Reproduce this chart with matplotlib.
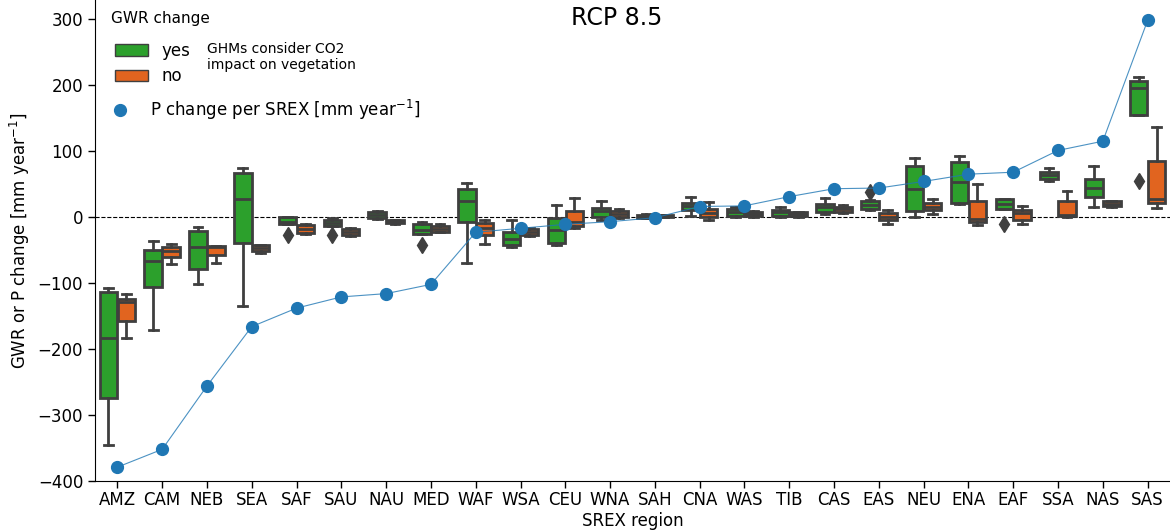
import numpy as np
import matplotlib
matplotlib.use("Agg")
import matplotlib.pyplot as plt
from matplotlib.patches import Patch
from matplotlib.lines import Line2D

# -----------------------------
# data
# -----------------------------
regions = ["AMZ", "CAM", "NEB", "SEA", "SAF", "SAU", "NAU", "MED", "WAF", "WSA",
           "CEU", "WNA", "SAH", "CNA", "WAS", "TIB", "CAS", "EAS", "NEU", "ENA",
           "EAF", "SSA", "NAS", "SAS"]

p_change = [-379, -352, -256, -166, -138, -121, -116, -102, -23, -17,
            -11, -7, -1, 16, 17, 31, 43, 44, 54, 65, 68, 101, 115, 298]

# GHMs with CO2 impact on vegetation ("yes")
yes_whislo = [-346, -171, -101, -135, -11, -13, -3, -26, -69, -46, -43, -5, -2, 2, 0, 0, 5, 10, 0, 20, 12, 54, 15, 154]
yes_q1     = [-274, -106, -79, -40, -11, -13, -2, -26, -8, -42, -40, 0, -1, 10, 1, 1, 7, 12, 9, 22, 12, 57, 30, 154]
yes_med    = [-183, -67, -45, 28, -7, -9, 3, -19, 25, -33, -20, 9, 1, 17, 7, 7, 15, 18, 43, 53, 20, 64, 44, 195]
yes_q3     = [-113, -50, -21, 67, 0, -4, 8, -10, 42, -23, -2, 14, 3, 22, 12, 11, 20, 24, 77, 84, 27, 69, 58, 206]
yes_whishi = [-108, -37, -15, 75, 0, -2, 9, -8, 52, -5, 19, 25, 4, 31, 16, 16, 29, 26, 90, 92, 28, 75, 78, 213]
yes_fliers = [[], [], [], [], [-27], [-27], [], [-43], [], [], [], [], [], [], [], [], [], [38], [], [], [-11], [], [], [54]]

# GHMs without CO2 impact ("no")
no_whislo = [-184, -71, -69, -54, -26, -28, -10, -23, -41, -28, -17, -2, 0, -5, 0, 0, 6, -10, 5, -12, -10, 0, 16, 13]
no_q1     = [-158, -61, -57, -51, -24, -27, -9, -22, -27, -27, -13, 0, 0, 0, 1, 1, 7, -4, 10, -7, -4, 1, 17, 21]
no_med    = [-128, -52, -46, -47, -18, -22, -7, -18, -16, -22, -8, 5, 1, 6, 5, 4, 12, 0, 16, -3, 6, 3, 20, 28]
no_q3     = [-124, -45, -44, -43, -12, -18, -5, -14, -9, -18, 9, 9, 3, 12, 7, 7, 16, 6, 22, 25, 10, 24, 24, 85]
no_whishi = [-117, -41, -44, -43, -10, -16, -4, -10, -5, -16, 29, 12, 3, 23, 9, 8, 18, 10, 27, 50, 17, 39, 25, 137]
no_fliers = [[] for _ in regions]

green = "#2ca02c"
orange = "#e1641f"
edge = "#3f3f3f"
blue = "#1f77b4"


def make_stats(lo, q1, med, q3, hi, fl):
    return [dict(whislo=a, q1=b, med=c, q3=d, whishi=e, fliers=f)
            for a, b, c, d, e, f in zip(lo, q1, med, q3, hi, fl)]


fig = plt.figure(figsize=(11.7, 5.32), dpi=100)
ax = fig.add_axes([95 / 1170, 51 / 532, 1 - 95 / 1170, 1 - 51 / 532])

x = np.arange(len(regions))
lw = 2.0
box_kw = dict(widths=0.39, patch_artist=True, manage_ticks=False,
              boxprops=dict(edgecolor=edge, linewidth=lw),
              medianprops=dict(color=edge, linewidth=lw),
              whiskerprops=dict(color=edge, linewidth=lw),
              capprops=dict(color=edge, linewidth=lw),
              flierprops=dict(marker="d", markerfacecolor=edge, markeredgecolor=edge,
                              markersize=8))

b1 = ax.bxp(make_stats(yes_whislo, yes_q1, yes_med, yes_q3, yes_whishi, yes_fliers),
            positions=x - 0.2, **box_kw)
b2 = ax.bxp(make_stats(no_whislo, no_q1, no_med, no_q3, no_whishi, no_fliers),
            positions=x + 0.2, **box_kw)
for b in b1["boxes"]:
    b.set_facecolor(green)
for b in b2["boxes"]:
    b.set_facecolor(orange)

ax.axhline(0, color="black", lw=0.8, ls="--", zorder=1)

# P change line + dots
ax.plot(x, p_change, color=blue, lw=0.8, alpha=0.8, zorder=5)
ax.plot(x, p_change, ls="none", marker="o", markersize=8.5,
        markerfacecolor=blue, markeredgecolor=blue, zorder=6)

ax.set_xlim(-0.5, len(regions) - 0.5)
ax.set_ylim(-400, 329)
ax.set_yticks([-400, -300, -200, -100, 0, 100, 200, 300])
ax.set_xticks(x)
ax.set_xticklabels(regions)
ax.tick_params(labelsize=12, length=5, width=1)
ax.tick_params(axis="x", pad=2)
ax.spines["top"].set_visible(False)
ax.spines["right"].set_visible(False)
ax.set_xlabel("SREX region", fontsize=12, labelpad=2)
ax.set_ylabel("GWR or P change [mm year$^{-1}$]", fontsize=12)

fig.text(617 / 1170, 1 - 18 / 532, "RCP 8.5", fontsize=17, ha="center", va="center")

# legend
fig.text(111 / 1170, 1 - 18 / 532, "GWR change", fontsize=11, ha="left", va="center")
h_yes = Patch(facecolor=green, edgecolor=edge, linewidth=1)
h_no = Patch(facecolor=orange, edgecolor=edge, linewidth=1)
leg1 = ax.legend([h_yes, h_no], ["yes", "no"], loc="upper left",
                 bbox_to_anchor=(100 / 1170, 1 - 27 / 532), bbox_transform=fig.transFigure,
                 frameon=False, fontsize=12, handlelength=2.0, labelspacing=0.45)
ax.add_artist(leg1)
h_p = Line2D([], [], color=blue, marker="o", ls="none", markersize=8.5)
ax.legend([h_p], ["P change per SREX [mm year$^{-1}$]"], loc="upper left",
          bbox_to_anchor=(97 / 1170, 1 - 83 / 532), bbox_transform=fig.transFigure,
          frameon=False, fontsize=12, handlelength=1.0, handletextpad=1.3)
fig.text(207 / 1170, 1 - 57 / 532, "GHMs consider CO2\nimpact on vegetation",
         fontsize=10, ha="left", va="center", linespacing=1.1)

fig.savefig("out.png", dpi=100)
